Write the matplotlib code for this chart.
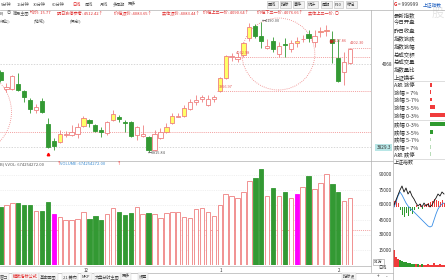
import matplotlib.pyplot as plt
from matplotlib.patches import Ellipse
from matplotlib.lines import Line2D

plt.rcParams['font.family'] = ['Noto Sans CJK SC', 'DejaVu Sans']

W, H = 445, 280

# 上证指数 日K
opens = [4046.2, 3997.2, 3997.2, 4011.6, 3991.5, 3965.6, 3936.8, 3962.7, 3896.5, 3847.6,
         3844.8, 3863.5, 3864.9, 3867.8, 3890.8, 3908.1, 3893.7, 3879.3, 3870.7, 3908.1,
         3916.7, 3903.7, 3902.3, 3864.9, 3862.0, 3859.2, 3821.7, 3856.3, 3873.5, 3899.4,
         3918.1, 3919.6, 3939.7, 3959.8, 3969.9, 3951.2, 3969.9, 3991.5, 4028.9, 4090.7,
         4083.6, 4095.1, 4144.0, 4178.5, 4149.7, 4115.2, 4135.3, 4097.9, 4125.3, 4112.3,
         4131.0, 4139.7, 4155.5, 4132.5, 4159.8, 4165.5, 4141.1, 4086.4, 4046.2, 4072.0]
highs = [4051.9, 4014.5, 4037.5, 4043.3, 3994.4, 3971.3, 3954.1, 3971.3, 3913.8, 3856.3,
         3879.3, 3877.8, 3893.7, 3899.4, 3919.6, 3911.0, 3896.5, 3887.9, 3905.2, 3936.8,
         3922.4, 3908.1, 3905.2, 3890.8, 3893.7, 3862.0, 3879.3, 3885.0, 3899.4, 3928.2,
         3928.2, 3951.2, 3968.5, 3980.0, 3980.0, 3980.0, 3980.0, 4031.8, 4095.1, 4100.8,
         4100.8, 4132.5, 4185.7, 4184.2, 4190.0, 4141.1, 4146.8, 4132.5, 4144.0, 4138.2,
         4146.8, 4152.6, 4167.0, 4167.0, 4175.6, 4181.4, 4164.1, 4141.1, 4103.7, 4115.2]
lows = [4017.4, 3988.6, 3994.4, 3991.5, 3959.8, 3928.2, 3928.2, 3928.2, 3827.5, 3821.7,
        3841.9, 3860.0, 3862.0, 3856.3, 3887.9, 3887.9, 3873.5, 3859.2, 3864.9, 3905.2,
        3902.3, 3873.5, 3859.2, 3850.5, 3859.2, 3815.84, 3818.9, 3853.4, 3870.7, 3896.5,
        3915.3, 3916.7, 3936.8, 3951.2, 3959.8, 3948.3, 3959.8, 3988.6, 4026.0, 4077.8,
        4074.9, 4089.3, 4133.9, 4144.0, 4115.2, 4110.9, 4103.7, 4089.3, 4089.3, 4103.7,
        4118.1, 4132.5, 4132.5, 4118.1, 4146.8, 4149.7, 4072.0, 4017.4, 4008.7, 4069.2]
closes = [4023.1, 4003.0, 4034.6, 3994.4, 3974.2, 3939.7, 3945.5, 3931.1, 3830.4, 3833.2,
          3867.8, 3866.4, 3873.5, 3887.9, 3913.8, 3899.4, 3876.4, 3873.5, 3902.3, 3925.3,
          3910.9, 3900.8, 3862.0, 3887.9, 3867.8, 3821.7, 3867.8, 3873.5, 3887.9, 3919.6,
          3921.0, 3942.6, 3959.8, 3965.6, 3972.8, 3968.5, 3972.8, 4028.9, 4092.2, 4093.6,
          4089.3, 4129.6, 4175.6, 4149.7, 4135.3, 4121.0, 4112.3, 4121.0, 4122.4, 4129.6,
          4135.3, 4142.5, 4144.0, 4149.7, 4162.7, 4168.4, 4129.6, 4020.3, 4074.9, 4112.3]
# 成交量 (万)
volumes = [58000, 60000, 62000, 62300, 60000, 60000, 54000, 54000, 63000, 51000,
           48000, 45000, 45000, 46000, 53000, 46000, 49000, 45000, 51000, 57000,
           53000, 50000, 52000, 58000, 51000, 52000, 51000, 47000, 52000, 53000,
           53000, 48000, 47000, 56000, 57000, 53000, 49000, 60000, 71000, 69000,
           67000, 73000, 84000, 87000, 96000, 69000, 77000, 69000, 73000, 67000,
           71000, 78000, 89000, 76000, 82000, 91000, 81000, 73000, 64000, 67425.4272]
yellow_days = [10, 14, 19, 28, 29, 31, 37, 38, 41, 42, 50, 51, 54, 55]
marked_days = [9, 50]
month_days = [14, 37, 57]
month_labels = ['12', '1', '2']

price_ticks = [4068]
cursor_price = 3829.3
level_prices = [3873.5, 3991.5, 4089.3, 4116.6]
level_starts = [-1, 36.6, 39.5, 58.6]
level_labels = ['', '3956.97', '4062.98', '4102.30']
vol_ticks = [15000, 30000, 45000, 60000, 75000, 90000]

# 右侧 涨跌分布
up_names = ['A股 涨停', '涨幅 > 7%', '涨幅 5-7%', '涨幅 3-5%', '涨幅 0-3%']
up_counts = [200, 120, 200, 450, 1500]
down_names = ['跌幅 0-3%', '跌幅 3-5%', '跌幅 5-7%', '跌幅 > 7%', 'A股 跌停']
down_counts = [1500, 330, 90, 90, 90]
info_names = ['最新指数', '今日开盘', '昨日收盘', '指数涨跌', '指数涨幅',
              '总成交额', '总成交量', '指数量比', '上证换手']

# 右下 分时小图
mini_price = [62, 67, 72, 77, 81, 75, 79, 73, 76, 71, 68, 64, 61, 63, 60, 64, 61, 63, 60, 62, 66, 69, 73, 71, 75, 73]
mini_avg = [60, 65, 71, 75, 72, 68, 64, 61, 59, 57, 55, 53, 51, 49, 47, 45, 43, 41, 40, 41, 47, 53, 58, 61, 63, 64]
mini_bar = [6, 8, 4, -3, -8, -10, -6, -9, -4, -7, -3, 2, -2, 3, -2, 2, 3, 4, 5, 6, 8, 7, 6, 5, 7, 4]
mini_vol = [17, 10, 8, 7, 6, 5, 5, 4, 4, 3, 3, 3, 3, 2, 3, 2, 2, 3, 2, 2, 4, 2, 2, 3, 2, 2]

UP = '#ef8080'
DOWN = '#339933'
YELLOW = '#ffff66'
MAGENTA = '#ff00ff'
GRID = '#c8c8c8'
TXT = '#333333'

fig = plt.figure(figsize=(W / 100, H / 100), dpi=100)
fig.patch.set_facecolor('white')


def box(x0, y0, x1, y1):
    return [x0 / W, 1 - y1 / H, (x1 - x0) / W, (y1 - y0) / H]


def hline(y, x0, x1, color='#b0b0b0', lw=0.5, ls='-'):
    fig.add_artist(Line2D([x0 / W, x1 / W], [1 - y / H, 1 - y / H], color=color, lw=lw, ls=ls))


def vline(x, y0, y1, color='#b0b0b0', lw=0.5):
    fig.add_artist(Line2D([x / W, x / W], [1 - y0 / H, 1 - y1 / H], color=color, lw=lw))


def ftext(x, y, s, size=3.1, color=TXT, **kw):
    return fig.text(x / W, 1 - y / H, s, fontsize=size, color=color, va='center', **kw)


xs = list(range(len(opens)))
XL = (-0.084, 62.53)

# ---- K线主图 ----
ax = fig.add_axes(box(0, 10, 371, 160))
ax.set_xlim(*XL)
ax.set_ylim(3793.0, 4224.5)
ax.axis('off')
for t in price_ticks + [cursor_price]:
    ax.axhline(t, color=GRID, lw=0.5, ls=(0, (2, 2)), zorder=0)
for i in xs:
    o, h, l, c = opens[i], highs[i], lows[i], closes[i]
    up = c >= o
    col = UP if up else DOWN
    face = (YELLOW if i in yellow_days else 'white') if up else DOWN
    ax.vlines(i, l, h, color=col, lw=0.6, zorder=2)
    ax.bar(i, max(abs(c - o), 0.8), bottom=min(o, c), width=0.72,
           color=face, edgecolor=col, lw=0.6, zorder=3)

for p, s, lab in zip(level_prices, level_starts, level_labels):
    ax.plot([s, XL[1]], [p, p], color=UP, lw=0.5, ls=(0, (1.5, 1.5)), zorder=1)
    if lab:
        ax.text(s + 0.3, p + 6, lab, fontsize=2.8, color='#e05050', va='bottom')
ax.text(44.1, highs[44] + 4, '←4190.00', fontsize=2.8, color='#555555', va='center')
ax.text(24.9, lows[25] - 3, '←3815.84', fontsize=2.8, color='#555555', va='center')
ax.text(56.1, 4135.0, '4117.86', fontsize=2.8, color='#e05050', va='center')
ax.plot(55.7, 4135.0, 's', color='#b03020', ms=1.6, zorder=4)
ax.plot(8, 3811.0, marker='^', color='red', ms=1.8, zorder=4)
ax.vlines(8, 3806.0, 3811.0, color='red', lw=0.7, zorder=4)
ax.add_patch(Ellipse((46.9, 4097.9), 12.3, 207, fill=False, ec=UP, lw=0.6, ls=(0, (1, 1.5))))
ax.add_patch(Ellipse((-5.4, 3931.1), 14.5, 247, fill=False, ec=UP, lw=0.6, ls=(0, (1, 1.5))))

ytr = ax.get_yaxis_transform()
for t in price_ticks:
    ax.text(392 / 371, t, str(t), transform=ytr, ha='right', va='center',
            fontsize=3.4, color=TXT, clip_on=False)
ax.text(391 / 371, cursor_price, f'{cursor_price:.1f}', transform=ytr, ha='right', va='center',
        fontsize=3.4, color=TXT, clip_on=False,
        bbox=dict(boxstyle='square,pad=0.25', fc='#b8e6e6', ec='none'))

# ---- 成交量 ----
axv = fig.add_axes(box(0, 165, 371, 265))
axv.set_xlim(*XL)
axv.set_ylim(0, 100000)
axv.axis('off')
for t in vol_ticks:
    axv.axhline(t, color='#e4e4e4', lw=0.4, ls=(0, (2, 2)), zorder=0)
axv.axhline(35000, color=UP, lw=0.5, ls=(0, (1.5, 1.5)), zorder=0)
for i in xs:
    up = closes[i] >= opens[i]
    if i in marked_days:
        face, edge = MAGENTA, MAGENTA
    elif up:
        face, edge = 'white', UP
    else:
        face, edge = DOWN, DOWN
    axv.bar(i, volumes[i], width=0.75, color=face, edgecolor=edge, lw=0.6, zorder=2)
vtr = axv.get_yaxis_transform()
for t in vol_ticks:
    axv.text(392 / 371, t, str(t), transform=vtr, ha='right', va='center',
             fontsize=3.4, color=TXT, clip_on=False)
xtr = axv.get_xaxis_transform()
for d, lab in zip(month_days, month_labels):
    axv.text(d, -0.05, lab, transform=xtr, fontsize=3.2, color=TXT, va='center', clip_on=False)
ftext(374, 262, 'X1万', size=3.0, bbox=dict(boxstyle='square,pad=0.2', fc='white', ec='#999999', lw=0.4))

# ---- 框线 ----
hline(9.5, 0, 445)
hline(161, 0, 393)
hline(265.5, 0, 371)
hline(272.5, 0, 393)
vline(371, 10, 272)
vline(393, 0, 280)
hline(81, 393, 445, color='#d0d0d0')
hline(119.5, 393, 445, color='#d0d0d0')
hline(158.5, 393, 445, color='#d0d0d0')

# ---- 顶部工具栏 ----
tabs = [('5分钟', 1), ('15分钟', 17), ('30分钟', 33), ('60分钟', 52), ('日线', 72),
        ('周线', 85), ('月线', 100), ('多周期', 113), ('更多', 128)]
for s, x in tabs:
    ftext(x, 4.5, s, size=3.0, color='#e02020' if s == '日线' else '#555555')
btns = [('画线', 268), ('指标', 281), ('事件', 294), ('统计', 308), ('周期', 322), ('F10', 335), ('标记', 347)]
for s, x in btns:
    ftext(x, 4.5, s, size=3.0, color='#333333',
          bbox=dict(boxstyle='square,pad=0.3', fc='#f2f2f2', ec='#bbbbbb', lw=0.4))

# ---- 指标信息行 ----
ftext(0, 13, 'B)', size=3.0, color='#555555')
ftext(7, 13, '◎', size=3.0, color='#777777')
ftext(13, 13, '简易主图', size=3.0, color='#555555')
info = [('均价: 15.77', 30), ('明日涨停参考: 4512.42↑', 57), ('价柱顶价: 4083.65↑', 114),
        ('实体顶价: 4083.44↑', 162), ('价柱上三一价: 4090.64↑', 203),
        ('价柱下三一价: 4076.66↑', 257), ('实体上三一价: ○', 308)]
for s, x in info:
    ftext(x, 13, s, size=3.0, color='#e03030')
ftext(0, 21, '行业]:', size=3.0, color='#555555')
ftext(33, 21, '[地域]:', size=3.0, color='#555555')
ftext(70, 21, '[概念]:', size=3.0, color='#555555')

# ---- 成交量标题 ----
ftext(0, 164, 'B) VVOL: 674254272.00', size=3.0, color='#555555')
ftext(57, 164, '↑', size=3.0, color='red')
ftext(60, 164, 'VOLUME: 674254272.00', size=3.0, color='#3a8ad0')
ftext(117, 164, '↑', size=3.0, color='red')

# ---- 底部标签 ----
bottom_tabs = [('窗口', 0), ('模板指标公式', 13), ('基本面图', 40), ('21 幕布', 63), ('MKP', 82),
               ('大盘分时主图', 95), ('更多', 122), ('设置', 139)]
for s, x in bottom_tabs:
    ftext(x, 276.5, s, size=3.0, color='#e02020' if s == '模板指标公式' else '#444444',
          bbox=dict(boxstyle='square,pad=0.25', fc='#f6f6f6', ec='#cccccc', lw=0.3))
ftext(343, 276.5, '指标设', size=3.0, color='#444444',
      bbox=dict(boxstyle='square,pad=0.25', fc='#f6f6f6', ec='#cccccc', lw=0.3))
ftext(378, 268, '日线', size=3.0)
ftext(377, 276.5, '+', size=3.4)
ftext(386, 276.5, '-', size=3.4)

# ---- 右侧面板 ----
ftext(432, 13, '股', size=9, color='#e6e6e6', zorder=0)
ftext(394, 5, 'G', size=3.4, color='#e02020', weight='bold')
ftext(398, 5, '= 999999', size=3.4, color='#333333')
ftext(423, 5, '上证指数', size=3.4, color='#2060c0')
for k, s in enumerate(info_names):
    ftext(394, 15 + 7.8 * k, s, size=3.9)
up_rows = [85, 92, 99.5, 107, 115]
down_rows = [124, 132, 139.5, 147, 154]
for s, y in zip(up_names, up_rows):
    ftext(394, y, s, size=3.9)
for s, y in zip(down_names, down_rows):
    ftext(394, y, s, size=3.9)
ftext(394, 163, '上证指数', size=3.6)

axb = fig.add_axes(box(430, 80, 445, 158))
axb.set_xlim(0, 1500)
axb.set_ylim(158, 80)
axb.axis('off')
axb.barh(up_rows, up_counts, height=3.6, color='#f03c3c')
axb.barh(down_rows, down_counts, height=3.6, color=['#2f9a2f', '#2f9a2f', '#b8dcb8', '#b8dcb8', '#b8dcb8'])

axm = fig.add_axes(box(393, 168, 445, 267))
axm.set_xlim(-0.5, len(mini_price) - 0.5)
axm.set_ylim(0, 99)
axm.axis('off')
mx = list(range(len(mini_price)))
axm.bar(mx, mini_bar, bottom=60, width=0.5,
        color=['#f03c3c' if b > 0 else '#2f9a2f' for b in mini_bar])
axm.plot(mx, mini_avg, color='#3a8ee6', lw=0.6)
axm.plot(mx, mini_price, color='#111111', lw=0.6)
axm.bar(mx, mini_vol, width=0.6,
        color=['#f03c3c' if b > 0 else '#2f9a2f' for b in mini_bar])

fig.savefig('out.png', dpi=100)
